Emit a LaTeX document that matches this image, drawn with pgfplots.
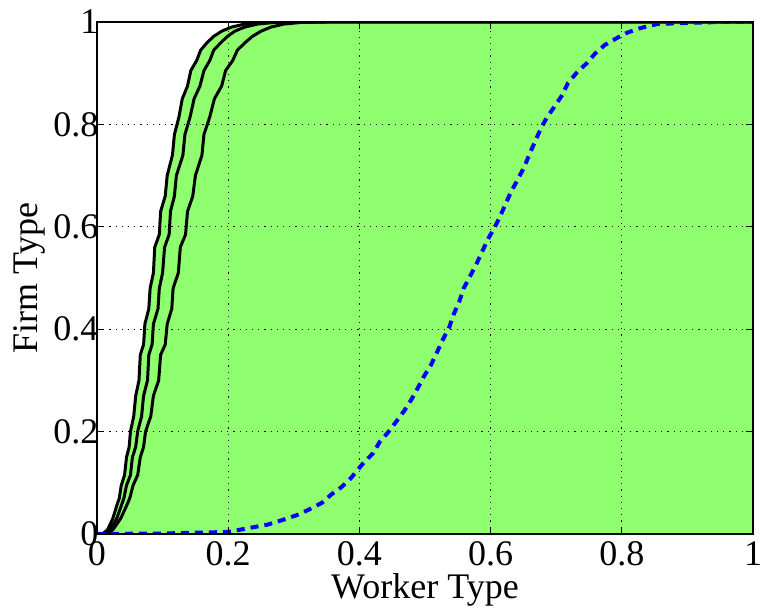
\documentclass[border=0pt]{standalone}
\usepackage{pgfplots}
\pgfplotsset{compat=1.18}
\usepackage{fontspec}
\setmainfont{Liberation Serif}
\definecolor{fillgreen}{RGB}{143,255,111}
\begin{document}
\begin{tikzpicture}
\begin{axis}[
  width=656pt, height=512pt, scale only axis,
  xmin=0, xmax=1, ymin=0, ymax=1,
  xtick={0,0.2,0.4,0.6,0.8,1}, ytick={0,0.2,0.4,0.6,0.8,1},
  grid=major,
  major grid style={black, line width=0.7pt, dash pattern=on 1.2pt off 5pt},
  axis line style={line width=1.6pt},
  tick align=inside, major tick length=7pt,
  tick style={black, line width=1pt},
  axis on top,
  /pgf/number format/assume math mode=true,
  ticklabel style={font=\fontsize{36}{36}\selectfont},
  xticklabel style={yshift=-4pt},
  yticklabel style={xshift=5pt},
  label style={font=\fontsize{36}{36}\selectfont},
  xlabel={Worker Type}, ylabel={Firm Type},
  xlabel style={yshift=-1pt},
  ylabel style={yshift=1pt},
]
\coordinate (sw) at (rel axis cs:0,0);
% green region right of leftmost curve
\addplot[draw=none, fill=fillgreen] coordinates {
(0.008,0) (0.016,0.008) (0.024,0.03) (0.030,0.055) (0.034,0.07) (0.037,0.095) (0.042,0.115) (0.045,0.15) (0.049,0.17) (0.051,0.2) (0.056,0.23) (0.059,0.27) (0.064,0.3) (0.066,0.35) (0.071,0.37) (0.073,0.41) (0.079,0.44) (0.081,0.48) (0.086,0.51) (0.088,0.56) (0.095,0.585) (0.097,0.63) (0.104,0.66) (0.107,0.70) (0.115,0.74) (0.118,0.78) (0.125,0.815) (0.130,0.85) (0.138,0.875) (0.143,0.905) (0.152,0.925) (0.158,0.945) (0.168,0.96) (0.178,0.972) (0.19,0.982) (0.205,0.99) (0.225,0.996) (0.25,0.999) (0.28,1) (1,1) (1,0)
} -- cycle;
% left curve
\addplot[black, line width=3pt] coordinates {
(0.008,0) (0.016,0.008) (0.024,0.03) (0.030,0.055) (0.034,0.07) (0.037,0.095) (0.042,0.115) (0.045,0.15) (0.049,0.17) (0.051,0.2) (0.056,0.23) (0.059,0.27) (0.064,0.3) (0.066,0.35) (0.071,0.37) (0.073,0.41) (0.079,0.44) (0.081,0.48) (0.086,0.51) (0.088,0.56) (0.095,0.585) (0.097,0.63) (0.104,0.66) (0.107,0.70) (0.115,0.74) (0.118,0.78) (0.125,0.815) (0.130,0.85) (0.138,0.875) (0.143,0.905) (0.152,0.925) (0.158,0.945) (0.168,0.96) (0.178,0.972) (0.19,0.982) (0.205,0.99) (0.225,0.996) (0.25,0.999) (0.28,1) (1,1)
};
% middle curve
\addplot[black, line width=3pt] coordinates {
(0.010,0) (0.020,0.008) (0.030,0.03) (0.037,0.055) (0.041,0.07) (0.045,0.095) (0.051,0.115) (0.054,0.15) (0.059,0.17) (0.062,0.2) (0.068,0.23) (0.071,0.27) (0.077,0.3) (0.079,0.35) (0.084,0.37) (0.086,0.41) (0.093,0.44) (0.095,0.48) (0.100,0.51) (0.103,0.56) (0.110,0.585) (0.112,0.63) (0.118,0.66) (0.121,0.70) (0.131,0.74) (0.134,0.78) (0.142,0.815) (0.148,0.85) (0.157,0.875) (0.163,0.905) (0.172,0.925) (0.178,0.945) (0.189,0.96) (0.199,0.972) (0.21,0.982) (0.225,0.99) (0.245,0.996) (0.27,0.999) (0.31,1) (1,1)
};
% right curve
\addplot[black, line width=3pt] coordinates {
(0.012,0) (0.024,0.008) (0.036,0.03) (0.045,0.055) (0.050,0.07) (0.055,0.095) (0.062,0.115) (0.066,0.15) (0.071,0.17) (0.074,0.2) (0.082,0.23) (0.086,0.27) (0.094,0.3) (0.097,0.35) (0.104,0.37) (0.107,0.41) (0.114,0.44) (0.116,0.48) (0.124,0.51) (0.127,0.56) (0.135,0.585) (0.138,0.63) (0.146,0.66) (0.150,0.70) (0.160,0.74) (0.163,0.78) (0.172,0.815) (0.179,0.85) (0.190,0.875) (0.196,0.905) (0.207,0.925) (0.214,0.945) (0.226,0.96) (0.237,0.972) (0.25,0.982) (0.265,0.99) (0.285,0.996) (0.31,0.999) (0.35,1) (1,1)
};
% blue dashed
\addplot[blue, line width=4pt, dash pattern=on 8pt off 6pt] coordinates {
(0,0) (0.1,0.001) (0.2,0.004) (0.233,0.012) (0.259,0.018) (0.282,0.027) (0.305,0.037) (0.322,0.047) (0.343,0.061) (0.358,0.078) (0.373,0.092) (0.387,0.109) (0.405,0.137) (0.421,0.158) (0.431,0.180) (0.444,0.199) (0.457,0.221) (0.468,0.240) (0.479,0.262) (0.489,0.285) (0.498,0.307) (0.509,0.330) (0.518,0.354) (0.527,0.379) (0.537,0.404) (0.544,0.430) (0.552,0.453) (0.559,0.480) (0.569,0.504) (0.579,0.529) (0.587,0.551) (0.596,0.576) (0.605,0.596) (0.614,0.619) (0.623,0.645) (0.631,0.668) (0.640,0.689) (0.651,0.716) (0.660,0.744) (0.677,0.793) (0.686,0.814) (0.697,0.834) (0.709,0.857) (0.718,0.881) (0.732,0.902) (0.747,0.920) (0.759,0.938) (0.774,0.955) (0.793,0.969) (0.808,0.979) (0.828,0.988) (0.854,0.996) (0.893,0.998) (0.95,1) (1,1)
};
\end{axis}
\pgfresetboundingbox
\path[use as bounding box] (sw) ++(-97pt,-76pt) rectangle ++(761pt,610pt);
\end{tikzpicture}
\end{document}
